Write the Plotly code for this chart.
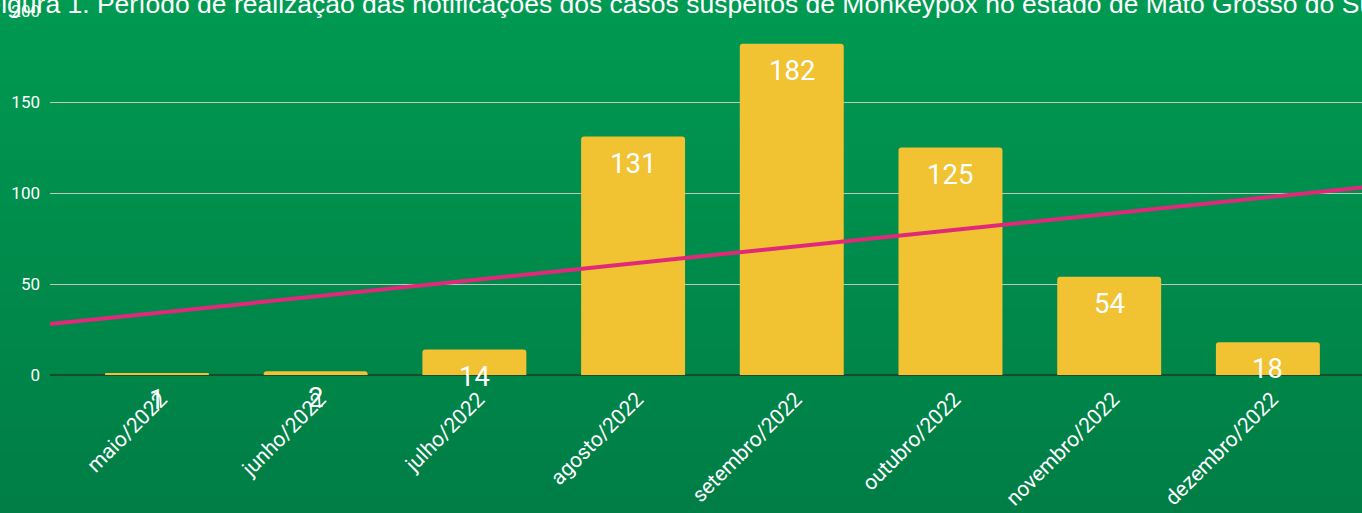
import numpy as np
import plotly.graph_objects as go

categories = ["maio/2022", "junho/2022", "julho/2022", "agosto/2022",
              "setembro/2022", "outubro/2022", "novembro/2022", "dezembro/2022"]
values = [1, 2, 14, 131, 182, 125, 54, 18]
y_ticks = [0, 50, 100, 150, 200]
title_text = ("Figura 1. Período de realização das notificações dos casos suspeitos "
              "de Monkeypox no estado de Mato Grosso do Sul")

W, H = 1362, 513
ML, MR, MT, MB = 50, 0, 11, 138
x_range = [-0.674, 7.593]

idx = np.arange(len(categories))
slope, intercept = np.polyfit(idx, values, 1)
trend_x = np.array(x_range)
trend_y = slope * trend_x + intercept

fig = go.Figure()
fig.add_trace(go.Bar(
    x=idx, y=values, marker=dict(color="#f1c232", cornerradius=3, line=dict(width=0)),
    width=0.655, hoverinfo="skip",
))
fig.add_trace(go.Scatter(
    x=trend_x, y=trend_y, mode="lines",
    line=dict(color="#e0297a", width=4), hoverinfo="skip", cliponaxis=False,
))

# gradient background
pw = W - ML - MR
ph = H - MT - MB
x0p, x1p = -ML / pw, 1 + MR / pw
y0p, y1p = -MB / ph, 1 + MT / ph
top = np.array([0x00, 0x9a, 0x52])
bot = np.array([0x00, 0x7e, 0x46])
n = 60
shapes = []
for k in range(n):
    t = k / (n - 1)
    c = top * (1 - t) + bot * t
    ya = y1p - (y1p - y0p) * k / n
    yb = y1p - (y1p - y0p) * (k + 1) / n
    shapes.append(dict(type="rect", xref="paper", yref="paper", x0=x0p, x1=x1p,
                       y0=yb - 0.002, y1=ya + 0.002, layer="below",
                       fillcolor="rgb(%d,%d,%d)" % tuple(c.astype(int)),
                       line=dict(width=0)))

annotations = []
for i, v in enumerate(values):
    annotations.append(dict(x=i, y=v, xref="x", yref="y", text=str(v),
                            showarrow=False, yanchor="top", yshift=-8,
                            font=dict(family="Roboto", size=27.5, color="white")))
annotations.append(dict(x=0, y=1, xref="paper", yref="paper", text=title_text,
                        showarrow=False, xanchor="left", yanchor="middle",
                        xshift=-67, yshift=7,
                        font=dict(family="Liberation Sans, Arial", size=26.5, color="white")))

fig.update_layout(
    width=W, height=H,
    margin=dict(l=ML, r=MR, t=MT, b=MB, pad=0),
    paper_bgcolor="#008a4c", plot_bgcolor="rgba(0,0,0,0)",
    showlegend=False, bargap=0.3,
    shapes=shapes, annotations=annotations,
    xaxis=dict(range=x_range, tickmode="array", tickvals=list(idx), ticktext=categories,
               tickangle=-45, showgrid=False, zeroline=False, ticks="",
               tickfont=dict(family="Roboto", size=21, color="white"),
               ticklabelstandoff=7, ticklabelshift=4,
               showline=False),
    yaxis=dict(range=[0, 200], tickmode="array", tickvals=y_ticks,
               showgrid=True, gridcolor="#bcc8c0", gridwidth=1,
               zeroline=True, zerolinecolor="#1d4a2c", zerolinewidth=2,
               tickfont=dict(family="Roboto", size=17, color="white"),
               ticks="", ticklabelstandoff=9),
)

fig.write_html("out.html", config={"displayModeBar": False},
               post_script="document.body.style.margin='0';document.body.style.overflow='hidden';")
